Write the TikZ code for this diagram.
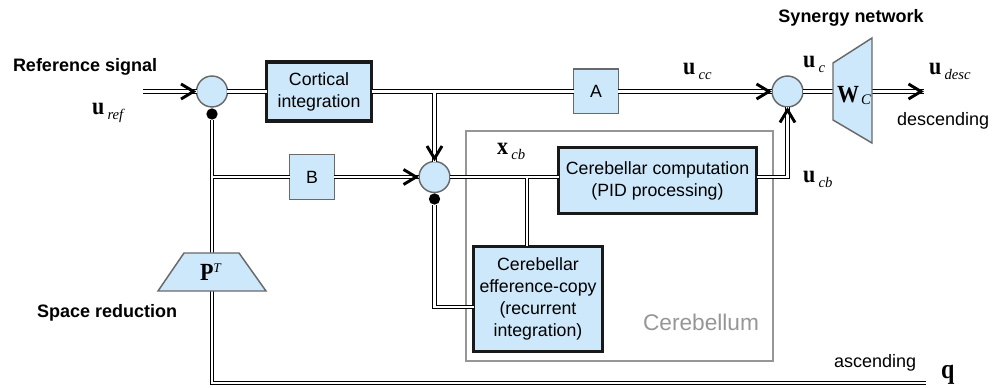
\documentclass[tikz,border=0pt]{standalone}
\usepackage{fontspec}
\usepackage{graphicx}
\setmainfont{Liberation Sans}
\newfontfamily\tnr{Liberation Serif}
\usetikzlibrary{calc}
\definecolor{lb}{RGB}{204,232,250}
\definecolor{bd}{RGB}{105,105,105}
\definecolor{cbgray}{RGB}{150,150,150}

\newcommand\bv[1]{\scalebox{1}[1.12]{\fontsize{16.5}{16.5}\selectfont\tnr\bfseries #1}}
\newcommand\sbs[2][3.5pt]{\kern2.5pt\raisebox{-#1}{\fontsize{11}{11}\selectfont\tnr\itshape #2}}
\newcommand\chev[2]{\draw[chevr, shift={(#1)}, rotate=#2] (-15.5,7.5) -- (-3,0) -- (-15.5,-7.5);}

\begin{document}
\begin{tikzpicture}[x=0.75pt,y=-0.75pt,
 every node/.style={inner sep=0pt, outer sep=0pt},
 txt/.style={font=\fontsize{13.3}{16.5}\selectfont, align=center},
 blk/.style={draw=black!90, line width=2.3pt, fill=lb, txt},
 sblk/.style={draw=bd, line width=1.1pt, fill=lb, txt},
 sumc/.style={circle, draw=bd, line width=1.1pt, fill=lb, minimum size=23.2pt},
 dotc/.style={circle, fill=black, minimum size=8.5pt},
 chevr/.style={line width=2.2pt, line join=miter},
 lbl/.style={font=\fontsize{13.5}{16}\selectfont\bfseries},
 plain/.style={font=\fontsize{13.5}{16}\selectfont},
 trap/.style={draw=bd, line width=1.1pt, fill=lb, line join=miter},
 wouter/.style={line width=3.45pt, black, line join=miter},
 winner/.style={line width=1.95pt, white, line join=miter},
 ]
\useasboundingbox (0,0) rectangle (992,388);

% cerebellum frame
\draw[cbgray, line width=0.8pt] (466,131) rectangle (773,361);
\node[anchor=east, text=cbgray, font=\fontsize{17}{20}\selectfont] (cbt) at (759,322) {Cerebellum};

% blocks
\node[sumc] (c1) at (212,91.5) {};
\node[dotc] (d1) at (212,114) {};
\node[blk, minimum width=78.75pt, minimum height=44.25pt] (cort) at (319,91.5) {Cortical\\integration};
\node[sblk, minimum width=33.4pt, minimum height=33.4pt] (A) at (596,91.5) {A};
\node[sumc] (c3) at (787.5,91.5) {};
\node[sblk, minimum width=33.4pt, minimum height=33.4pt] (B) at (312,177) {B};
\node[sumc] (c2) at (434.5,177) {};
\node[dotc] (d2) at (434.5,199) {};
\node[blk, minimum width=148.5pt, minimum height=49.5pt] (cc) at (657.5,180.5) {Cerebellar computation\\(PID processing)};
\node[blk, minimum width=96.75pt, minimum height=78.75pt] (eff) at (538,299) {Cerebellar\\efference-copy\\(recurrent\\integration)};

\coordinate (wl) at (833,91.5);
\coordinate (wr) at (872,91.5);
\coordinate (inp) at (143,91.5);
\coordinate (otip) at (924,91.5);
\coordinate (bot) at (926,383);
\coordinate (br) at (527,177);
\coordinate (effin) at ($(eff.west)+(0,8)$);

\newcommand\wires[1]{%
 \draw[#1] (inp) -- (c1.west);
 \draw[#1] (c1.east) -- (cort.west);
 \draw[#1] (cort.east) -- (A.west);
 \draw[#1] (c2 |- cort.east) -- (c2.north);
 \draw[#1] (A.east) -- (c3.west);
 \draw[#1] (c3.east) -- (wl);
 \draw[#1] (wr) -- (otip);
 \draw[#1] (d1.south) -- (d1 |- bot) -- (bot);
 \draw[#1] (d1 |- B.west) -- (B.west);
 \draw[#1] (B.east) -- (c2.west);
 \draw[#1] (c2.east) -- (c2.east -| cc.west);
 \draw[#1] (br) -- (br |- eff.north);
 \draw[#1] (effin) -| (d2.south);
 \draw[#1] (c2.east -| cc.east) -| (c3.south);
}
\wires{wouter}
\wires{winner}

% arrow heads
\chev{c1.west}{0}
\chev{c2.north}{-90}
\chev{c2.west}{0}
\chev{c3.west}{0}
\chev{c3.south}{90}
\chev{otip}{0}

% synergy trapezoid
\draw[trap] (833,63) -- (872,38) -- (872,143) -- (833,120) -- cycle;
\node[anchor=base west] (Wl) at (837,103) {\bv{W}\kern-1pt\sbs[1.5pt]{C}};

% space reduction trapezoid
\draw[trap] (184,253) -- (239,253) -- (266,291) -- (158,291) -- cycle;
\node[anchor=base west] (Pl) at (200,281) {\bv{P}\raisebox{6pt}{\fontsize{10}{10}\selectfont\tnr\itshape T}};

% text labels
\node[lbl, anchor=west] (rs) at (13,67) {Reference signal};
\node[lbl] (sn) at (851,18) {Synergy network};
\node[lbl, anchor=west] (sr) at (37,313) {Space reduction};
\node[plain, anchor=west] (desc) at (897,121) {descending};
\node[plain, anchor=west] (asc) at (834,363) {ascending};

% math labels
\node[anchor=base west] (uref) at (92,115) {\bv{u}\sbs{ref}};
\node[anchor=base west] (ucc) at (683,75) {\bv{u}\sbs{cc}};
\node[anchor=base west] (uc) at (803,68) {\bv{u}\sbs{c}};
\node[anchor=base west] (udesc) at (929,75) {\bv{u}\sbs{desc}};
\node[anchor=base west] (ucb) at (803,183) {\bv{u}\sbs{cb}};
\node[anchor=base west] (xcb) at (497,155) {\bv{x}\sbs{cb}};
\node[anchor=base west] (q) at (941,378) {\scalebox{1}[1.15]{\fontsize{18}{18}\selectfont\tnr\bfseries q}};
\end{tikzpicture}
\end{document}
